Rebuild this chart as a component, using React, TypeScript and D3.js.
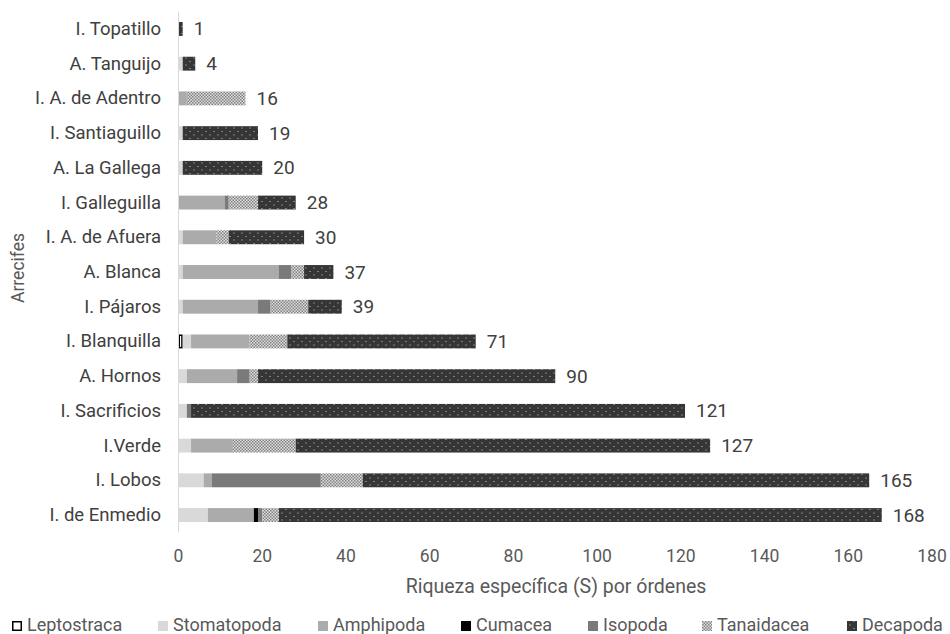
import React from "react";
import * as d3 from "d3";

const categories = [
  "I. Topatillo", "A. Tanguijo", "I. A. de Adentro", "I. Santiaguillo", "A. La Gallega",
  "I. Galleguilla", "I. A. de Afuera", "A. Blanca", "I. Pájaros", "I. Blanquilla",
  "A. Hornos", "I. Sacrificios", "I.Verde", "I. Lobos", "I. de Enmedio",
];
const seriesNames = ["Leptostraca", "Stomatopoda", "Amphipoda", "Cumacea", "Isopoda", "Tanaidacea", "Decapoda"];
const leptostraca = [0, 0, 0, 0, 0, 0, 0, 0, 0, 1, 0, 0, 0, 0, 0];
const stomatopoda = [0, 1, 0, 1, 1, 0, 1, 1, 1, 2, 2, 2, 3, 6, 7];
const amphipoda = [0, 0, 2, 0, 0, 11, 8, 23, 18, 14, 12, 0, 10, 2, 11];
const cumacea = [0, 0, 0, 0, 0, 0, 0, 0, 0, 0, 0, 0, 0, 0, 1];
const isopoda = [0, 0, 0, 0, 0, 1, 0, 3, 3, 0, 3, 1, 0, 26, 1];
const tanaidacea = [0, 0, 14, 0, 0, 7, 3, 3, 9, 9, 2, 0, 15, 10, 4];
const decapoda = [1, 3, 0, 18, 19, 9, 18, 7, 8, 45, 71, 118, 99, 121, 144];
const xTicks = [0, 20, 40, 60, 80, 100, 120, 140, 160, 180];

const seriesValues = [leptostraca, stomatopoda, amphipoda, cumacea, isopoda, tanaidacea, decapoda];
const fills = ["#ffffff", "#d9d9d9", "#ababab", "#000000", "#7a7a7a", "url(#tana)", "url(#deca)"];
const legendX = [12, 158, 318, 461, 588, 702, 847];

const FONT = "Roboto, Inter, 'Open Sans', sans-serif";

export default function App() {
  const W = 950, H = 634;
  const left = 178.5, right = 932, top = 11.6, bottom = 532.4;
  const x = d3.scaleLinear().domain([0, 180]).range([left, right]);
  const y = d3.scaleBand().domain(categories).range([top, bottom]).paddingInner(0.6).paddingOuter(0.3);

  const rows = categories.map((c, i) => {
    const obj: any = { cat: c };
    seriesNames.forEach((s, k) => (obj[s] = seriesValues[k][i]));
    return obj;
  });
  const stacked = d3.stack().keys(seriesNames)(rows);
  const totals = categories.map((_, i) => d3.sum(seriesValues, (s) => s[i]));

  return (
    <svg width={W} height={H} style={{ position: "absolute", left: 0, top: 0, background: "#fff" }} fontFamily={FONT}>
      <defs>
        <pattern id="tana" width="3" height="3" patternUnits="userSpaceOnUse">
          <rect width="3" height="3" fill="#e0e0e0" />
          <rect width="1.5" height="1.5" fill="#808080" />
          <rect x="1.5" y="1.5" width="1.5" height="1.5" fill="#808080" />
        </pattern>
        <pattern id="deca" width="8" height="7" patternUnits="userSpaceOnUse">
          <rect width="8" height="7" fill="#363636" />
          <rect x="1.5" y="1.5" width="1" height="1" fill="#c8c8c8" />
          <rect x="5.5" y="5" width="1" height="1" fill="#c8c8c8" />
        </pattern>
      </defs>

      {stacked.map((layer, k) => (
        <g key={layer.key}>
          {layer.map((d, i) => {
            const w = x(d[1]) - x(d[0]);
            if (w <= 0) return null;
            const isLepto = layer.key === "Leptostraca";
            return (
              <rect
                key={i}
                x={x(d[0]) + (isLepto ? 0.75 : 0)}
                y={(y(categories[i]) as number) + (isLepto ? 0.75 : 0)}
                width={w - (isLepto ? 1.5 : 0)}
                height={y.bandwidth() - (isLepto ? 1.5 : 0)}
                fill={fills[k]}
                stroke={isLepto ? "#000" : "none"}
                strokeWidth={isLepto ? 1.5 : 0}
              />
            );
          })}
        </g>
      ))}

      <line x1={left} x2={left} y1={top} y2={bottom} stroke="#d9d9d9" strokeWidth={1} />

      {categories.map((c, i) => (
        <text key={c} x={161} y={(y(c) as number) + y.bandwidth() / 2} textAnchor="end" dominantBaseline="central" fontSize={18.5} fill="#404040">
          {c}
        </text>
      ))}

      {categories.map((c, i) => (
        <text key={"t" + c} x={x(totals[i]) + 11} y={(y(c) as number) + y.bandwidth() / 2} dominantBaseline="central" fontSize={19} fill="#404040">
          {totals[i]}
        </text>
      ))}

      {xTicks.map((t) => (
        <text key={t} x={x(t)} y={556} textAnchor="middle" dominantBaseline="central" fontSize={17.5} fill="#595959">
          {t}
        </text>
      ))}

      <text x={556} y={586} textAnchor="middle" dominantBaseline="central" fontSize={19.5} fill="#595959">
        Riqueza específica (S) por órdenes
      </text>
      <text transform="translate(18,268) rotate(-90)" textAnchor="middle" dominantBaseline="central" fontSize={17.5} fill="#595959">
        Arrecifes
      </text>

      {seriesNames.map((s, k) => (
        <g key={s}>
          <rect
            x={legendX[k] + (k === 0 ? 0.75 : 0)}
            y={621 + (k === 0 ? 0.75 : 0)}
            width={k === 0 ? 8.5 : 10}
            height={k === 0 ? 8.5 : 10}
            fill={fills[k]}
            stroke={k === 0 ? "#000" : "none"}
            strokeWidth={1.5}
          />
          <text x={legendX[k] + 15} y={631} fontSize={18} fill="#595959">
            {s}
          </text>
        </g>
      ))}
    </svg>
  );
}
